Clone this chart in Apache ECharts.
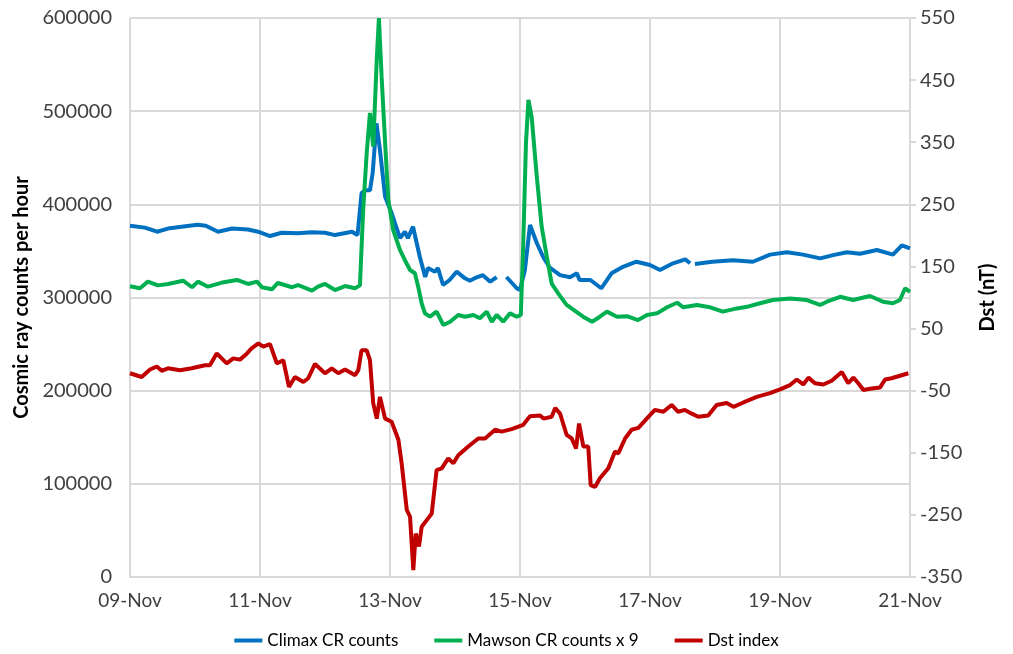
<!DOCTYPE html>
<html>
<head>
<meta charset="utf-8">
<script src="https://cdn.jsdelivr.net/npm/echarts@6/dist/echarts.min.js"></script>
<style>
  html, body { margin: 0; padding: 0; background: #fff; }
  #main { width: 1013px; height: 654px; }
</style>
</head>
<body>
<div id="main"></div>
<script>
// hours since 09-Nov 00:00
const dateLabels = ['09-Nov', '11-Nov', '13-Nov', '15-Nov', '17-Nov', '19-Nov', '21-Nov'];
const dstTicks = [-350, -250, -150, -50, 50, 150, 250, 350, 450, 550];

// Climax CR counts (null = gap in record)
const climax = [
  [0, 377000], [5.5, 375000], [10, 370600], [14, 374000], [19, 376000], [25, 378000],
  [28, 377000], [32.5, 370600], [37.7, 374000], [43.6, 373000], [47.3, 370600], [51.7, 366000],
  [56, 369500], [62, 369000], [67, 370000], [72, 369500], [75.7, 367000], [82, 370600],
  [84, 367000], [85.5, 412000], [86.8, 415000], [88.6, 415000], [89.6, 433600], [91, 487000],
  [92.3, 458000], [94.2, 408000], [96.6, 390600], [97.8, 380000], [99.7, 363800], [101.5, 370600],
  [102.6, 363800], [104.5, 376000], [107, 343800], [109, 322000], [110, 331600], [112.6, 327700],
  [113.7, 331600], [115.6, 313400], [118, 318800], [120.6, 327700], [123.7, 320600], [125.5, 318000],
  [128, 321700], [130.3, 324000], [133, 317000], [135.4, 322000], [137, null], [139, 322000],
  [142.8, 309900], [144, 308000], [145.8, 329500], [147.7, 377800], [150.2, 358500], [152.5, 343800],
  [155, 332000], [158.8, 324000], [162.5, 321700], [165, 326000], [166, 318800], [170, 318800],
  [174, 309900], [177.8, 326000], [182, 333000], [187, 338400], [192, 334900], [195.7, 329500],
  [200.5, 336700], [205, 341000], [206.8, 336700], [207.7, null], [208.6, 336000], [215, 338400],
  [222.6, 340000], [230, 338400], [236.3, 346000], [242.6, 348500], [248.5, 346000], [254.8, 342000],
  [259.6, 345500], [264.7, 348500], [269.5, 347000], [275.8, 351000], [281.7, 346000], [285, 356000],
  [288, 352800]
];

// Mawson CR counts x 9
const mawson = [
  [0, 312000], [3.7, 310000], [6.6, 317000], [10.3, 313000], [14, 314500], [19.6, 318000],
  [22.9, 311000], [25.1, 317000], [28.8, 311600], [34, 316000], [39.5, 318800], [43.6, 314500],
  [46.9, 317000], [48.7, 311000], [52.4, 308800], [54.6, 315600], [59.8, 311000], [62, 313400],
  [67.2, 307300], [69.4, 311600], [72, 314500], [75.7, 308000], [79.4, 312300], [83.1, 310000],
  [84.9, 313000], [86.1, 394000], [87.4, 455000], [88.6, 498000], [89.8, 462000], [91.1, 555000],
  [91.9, 600000], [92.9, 537000], [94.2, 466000], [95.4, 404600], [97.2, 372000], [99.7, 351000],
  [101.5, 340000], [103.4, 329500], [105.2, 326000], [106.4, 311600], [107.7, 293800], [108.9, 283000],
  [110.8, 279400], [113.2, 284800], [115.7, 270500], [118.2, 274000], [121.2, 281200], [123.7, 279400],
  [126.8, 281200], [129.2, 277700], [131.7, 284800], [133.6, 274000], [135.4, 281200], [137.8, 274000],
  [140.3, 283000], [142.8, 279400], [144.3, 281200], [145.2, 358000], [146.2, 465500], [147.1, 512000],
  [148.3, 494000], [150.2, 429700], [152, 376000], [153.9, 343800], [155.7, 315000], [158.1, 304500],
  [161.2, 292000], [162.5, 289500], [167.3, 279400], [170.6, 274000], [173.5, 279400], [176.1, 284800],
  [179.8, 279400], [183.5, 280000], [187.6, 275800], [190.9, 281200], [194.6, 283000], [198.3, 289500],
  [202, 294400], [204.3, 289500], [209.3, 292000], [214.2, 289500], [218.9, 284800], [224.1, 288300],
  [227.8, 290000], [232.6, 293800], [237.4, 297300], [243.7, 299000], [249.9, 297300], [254.8, 292000],
  [257.3, 295500], [262.2, 300800], [267, 297300], [273.2, 301600], [278, 295500], [281.7, 293800],
  [284.3, 297300], [286.2, 309900], [288, 306000]
];

// Dst index (nT)
const dst = [
  [0, -22], [4.3, -28], [7.4, -16], [9.9, -11], [11.7, -18], [14, -14], [18.5, -17], [22.8, -14],
  [27.7, -9], [29.5, -9], [32, 10], [35.7, -6], [38.1, 2], [40.6, 0], [42.5, 7], [44.9, 18],
  [47.4, 26], [49.2, 21], [51.7, 25], [54.2, -6], [56.6, -1], [58.7, -44], [60.9, -28], [64, -36],
  [65.8, -30], [68.3, -7], [72, -22], [74.5, -14], [76.9, -22], [79.4, -16], [83.1, -25], [84.3, -17],
  [85.5, 15], [87.4, 15], [88.6, -1], [89.8, -70], [91.1, -95], [92.3, -60], [94.2, -95], [96.6, -100],
  [99.1, -129], [100.3, -167], [102.2, -242], [103.4, -253], [104.6, -339], [105.5, -280], [106.7, -301],
  [107.7, -269], [111.4, -248], [113.2, -178], [115.1, -175], [117.5, -159], [119.4, -167], [121.2, -154],
  [124.9, -140], [128.6, -127], [131.1, -127], [134.8, -113], [137.2, -116], [140.9, -112], [145.2, -105],
  [147.7, -91], [151.4, -90], [152.7, -95], [155.7, -92], [157, -78], [158.8, -87], [161.2, -121],
  [163.1, -127], [164.7, -143], [165.8, -103], [167.4, -140], [169.2, -140], [170.1, -202], [171.7, -205],
  [173.5, -191], [176.6, -175], [179.1, -148], [180.3, -151], [182.8, -127], [185.2, -113], [187.7, -110],
  [190.8, -95], [193.8, -81], [196.9, -84], [200, -73], [202.4, -84], [204.9, -81], [207.4, -87],
  [209.8, -92], [213.5, -90], [216.6, -73], [220.3, -70], [222.8, -76], [226.5, -69], [231.4, -60],
  [236.3, -54], [240, -48], [243.7, -41], [246.2, -32], [248.6, -40], [250.5, -29], [252.9, -38],
  [256, -40], [259.1, -34], [262.8, -20], [265.2, -38], [267.1, -29], [268.9, -38], [270.8, -49],
  [273.2, -47], [276.9, -45], [278.8, -32], [281.2, -30], [284.3, -26], [287.4, -22]
];

const font = 'Lato, "Open Sans", sans-serif';
const gridColor = '#d9d9d9';

function toData(arr) {
  return arr.map(p => [p[0], p[1] === null ? '-' : p[1]]);
}

let chart = echarts.init(document.getElementById('main'), null, {renderer: 'canvas'});
chart.setOption({
  animation: false,
  textStyle: {fontFamily: font},
  grid: {left: 130, right: 103, top: 18, bottom: 77},
  legend: {
    bottom: 0,
    left: 'center',
    icon: 'rect',
    itemWidth: 28,
    itemHeight: 4,
    itemGap: 36,
    textStyle: {fontFamily: font, fontSize: 17, color: '#000'},
    data: ['Climax CR counts', 'Mawson CR counts x 9', 'Dst index']
  },
  xAxis: {
    type: 'value',
    min: 0,
    max: 288,
    interval: 48,
    axisLine: {lineStyle: {color: gridColor, width: 2}},
    axisTick: {show: false},
    splitLine: {lineStyle: {color: gridColor, width: 2}},
    axisLabel: {
      fontSize: 19,
      color: '#404040',
      margin: 14,
      formatter: v => dateLabels[Math.round(v / 48)]
    }
  },
  yAxis: [{
    type: 'value',
    min: 0,
    max: 600000,
    interval: 100000,
    name: 'Cosmic ray counts per hour',
    nameLocation: 'middle',
    nameGap: 98,
    nameRotate: 90,
    nameTextStyle: {fontFamily: font, fontSize: 20, fontWeight: 'bold', color: '#000'},
    axisLine: {show: false},
    axisTick: {show: false},
    splitLine: {lineStyle: {color: gridColor, width: 2}},
    axisLabel: {fontSize: 20, color: '#404040', margin: 18, formatter: v => String(v)}
  }, {
    type: 'value',
    min: -350,
    max: 550,
    position: 'right',
    name: 'Dst (nT)',
    nameLocation: 'middle',
    nameGap: 68,
    nameRotate: 90,
    nameTextStyle: {fontFamily: font, fontSize: 20, fontWeight: 'bold', color: '#000'},
    axisLine: {show: true, lineStyle: {color: gridColor, width: 2}},
    axisTick: {show: true, length: 6, customValues: dstTicks, lineStyle: {color: gridColor, width: 2}},
    splitLine: {show: false},
    axisLabel: {fontSize: 20, color: '#404040', margin: 10, customValues: dstTicks}
  }],
  series: [{
    name: 'Climax CR counts',
    type: 'line',
    yAxisIndex: 0,
    showSymbol: false,
    connectNulls: false,
    itemStyle: {color: '#0070C0'},
    lineStyle: {color: '#0070C0', width: 4},
    data: toData(climax)
  }, {
    name: 'Mawson CR counts x 9',
    type: 'line',
    yAxisIndex: 0,
    showSymbol: false,
    itemStyle: {color: '#00B050'},
    lineStyle: {color: '#00B050', width: 4},
    data: toData(mawson)
  }, {
    name: 'Dst index',
    type: 'line',
    yAxisIndex: 1,
    showSymbol: false,
    itemStyle: {color: '#C00000'},
    lineStyle: {color: '#C00000', width: 4},
    data: toData(dst)
  }]
});
</script>
</body>
</html>
